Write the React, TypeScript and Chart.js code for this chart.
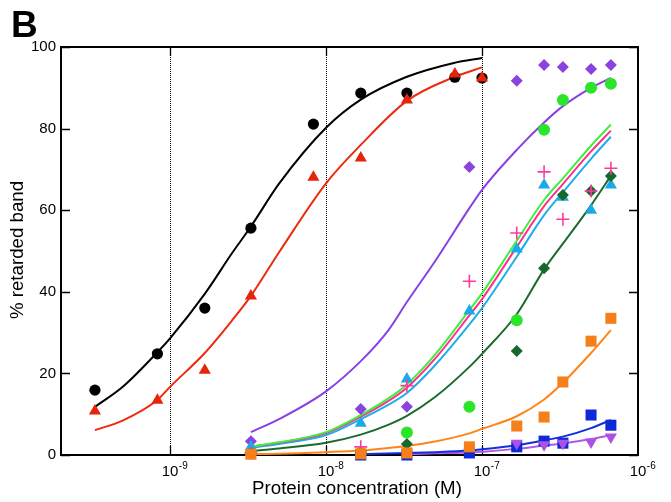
import React, { useEffect, useRef } from "react";
import { Chart, registerables } from "chart.js";

Chart.register(...registerables);

const FONT = "'Liberation Sans', Arial, Helvetica, sans-serif";

// axes
const xMin = 2e-10;
const xMax = 1e-6;
const yTicks = [0, 20, 40, 60, 80, 100];
const xDecades = [1e-9, 1e-8, 1e-7, 1e-6];
const xDecadeExp = ["-9", "-8", "-7", "-6"];
const dottedAt = [1e-9, 1e-8, 1e-7];

// measured points – high-affinity pair
const leftConc = [3.3e-10, 8.3e-10, 1.67e-9, 3.3e-9, 8.3e-9, 1.67e-8, 3.3e-8, 6.7e-8, 1e-7];
const blackPoints = [15.9, 24.8, 36, 55.6, 81.1, 88.7, 88.7, 92.6, 92.4];
const redPoints = [10.8, 13.4, 20.8, 39, 68.1, 72.8, 87, 93.4, 92.4];

// measured points – other proteins
const rightConc = [3.3e-9, 1.67e-8, 3.3e-8, 8.3e-8, 1.67e-7, 2.5e-7, 3.3e-7, 5e-7, 6.7e-7];
const violetPoints = [3.4, 11.3, 11.8, 70.6, 91.7, 95.6, 95.1, 94.6, 95.6];
const greenPoints = [0.5, 0.5, 5.5, 11.8, 33, 79.7, 87, 90, 91];
const cyanPoints = [2, 7.8, 18.6, 35.3, 50.5, 66.2, 63.2, 60, 66.2];
const pinkPoints = [0.5, 2, 17, 42.6, 54.4, 69.4, 57.8, 64.7, 70.3];
const darkGreenPoints = [0.5, 0.5, 2.7, 1, 25.5, 45.8, 63.7, 64.7, 68.4];
const orangePoints = [0.2, 0.3, 0.5, 2, 7.1, 9.3, 17.9, 27.9, 33.5];
const bluePoints = [null, 0, 0, 0.5, 2, 3.4, 2.9, 9.8, 7.3];
const lilacPoints = [null, null, null, null, 2.9, 2.5, 2.9, 3.2, 4.4];

// fitted curves
const leftFitX = [3.3e-10, 5e-10, 8.3e-10, 1e-9, 1.67e-9, 2.5e-9, 3.3e-9, 5e-9, 1e-8, 1.67e-8, 3.3e-8, 6.6e-8, 1e-7];
const blackFit = [11.8, 16.8, 25.2, 28.6, 39.5, 49.5, 56, 66.5, 80.2, 87.1, 92.7, 96.1, 97.3];
const redFit = [6.1, 8.5, 13.5, 16.7, 25, 33, 39, 49.7, 66.6, 76, 86.8, 92.6, 95];

const rightFitX = [3.3e-9, 5e-9, 1e-8, 1.67e-8, 2.5e-8, 3.3e-8, 5e-8, 8.3e-8, 1e-7, 1.67e-7, 2.5e-7, 3.3e-7, 5e-7, 6.7e-7];
const violetFit = [5.6, 8.8, 15.6, 23, 30.5, 37.5, 47.5, 60.5, 65, 74.8, 81.5, 85.5, 90, 92.4];
const greenFit = [2.1, 3.1, 5.6, 9.8, 13.8, 17.3, 24.6, 35.5, 39.6, 52.5, 62.5, 67.8, 75.8, 81];
const pinkFit = [2.0, 3.0, 5.4, 9.4, 13.2, 16.5, 23.6, 34.2, 38.2, 51, 61, 66.4, 74.4, 79.5];
const cyanFit = [1.8, 2.7, 4.9, 8.8, 12.3, 15.2, 22, 32, 36, 48.6, 58.8, 64.4, 72.6, 78];
const darkGreenFit = [1.0, 1.6, 3.0, 5.0, 7.4, 9.6, 14.2, 21.6, 24.8, 34.5, 45.5, 51.8, 61.2, 68.4];
const orangeFit = [0.2, 0.3, 0.7, 1.1, 1.7, 2.2, 3.3, 5.3, 6.4, 9.5, 13.6, 17.7, 25, 30.6];

const blueFitX = [1.67e-8, 3.3e-8, 5e-8, 8.3e-8, 1e-7, 1.67e-7, 2.5e-7, 3.3e-7, 5e-7, 6.7e-7];
const blueFit = [0.2, 0.5, 0.7, 1.1, 1.4, 2.4, 3.6, 4.5, 6.6, 8.6];
const lilacFitX = [3.3e-8, 5e-8, 8.3e-8, 1e-7, 1.67e-7, 2.5e-7, 3.3e-7, 5e-7, 6.7e-7];
const lilacFit = [0.2, 0.4, 0.6, 0.8, 1.5, 2.3, 2.8, 3.9, 4.9];

const zip = (xs: number[], ys: (number | null)[]) =>
  xs
    .map((x, i) => ({ x, y: ys[i] }))
    .filter((p) => p.y !== null && p.y !== undefined);

const curve = (xs: number[], ys: number[], color: string) => ({
  data: zip(xs, ys),
  showLine: true,
  borderColor: color,
  borderWidth: 2,
  pointRadius: 0,
  cubicInterpolationMode: "monotone",
  order: 50,
});

const marks = (
  xs: number[],
  ys: (number | null)[],
  style: string,
  color: string,
  radius: number,
  order: number,
  extra: any = {}
) => ({
  data: zip(xs, ys),
  showLine: false,
  pointStyle: style,
  pointRadius: radius,
  backgroundColor: color,
  borderColor: color,
  pointBorderWidth: 0,
  clip: false,
  order,
  ...extra,
});

const decorPlugin = {
  id: "decor",
  beforeDatasetsDraw(chart: any) {
    const { ctx, chartArea: a, scales } = chart;
    const xs = scales.x;
    const ys = scales.y;
    ctx.save();
    // dotted decade lines
    ctx.strokeStyle = "#000";
    ctx.lineWidth = 1;
    ctx.setLineDash([1, 1]);
    for (const v of dottedAt) {
      const px = Math.round(xs.getPixelForValue(v)) + 0.5;
      ctx.beginPath();
      ctx.moveTo(px, a.top);
      ctx.lineTo(px, a.bottom);
      ctx.stroke();
    }
    ctx.setLineDash([]);
    // tick marks
    ctx.lineWidth = 1.3;
    for (const v of dottedAt) {
      const px = Math.round(xs.getPixelForValue(v)) + 0.5;
      ctx.beginPath();
      ctx.moveTo(px, a.top);
      ctx.lineTo(px, a.top + 9);
      ctx.moveTo(px, a.bottom);
      ctx.lineTo(px, a.bottom - 9);
      ctx.stroke();
    }
    for (const v of yTicks) {
      const py = Math.round(ys.getPixelForValue(v)) + 0.5;
      ctx.beginPath();
      ctx.moveTo(a.left, py);
      ctx.lineTo(a.left + 9, py);
      ctx.moveTo(a.right, py);
      ctx.lineTo(a.right - 9, py);
      ctx.stroke();
    }
    // frame
    ctx.lineWidth = 2;
    ctx.strokeRect(a.left, a.top, a.right - a.left, a.bottom - a.top);
    ctx.restore();
  },
  afterDraw(chart: any) {
    const { ctx, chartArea: a, scales } = chart;
    const xs = scales.x;
    ctx.save();
    ctx.fillStyle = "#000";
    // x tick labels with superscript exponents
    xDecades.forEach((v, i) => {
      const px = xs.getPixelForValue(v);
      ctx.font = `15px ${FONT}`;
      ctx.textAlign = "center";
      ctx.textBaseline = "alphabetic";
      ctx.fillText("10", px, 476);
      const w = ctx.measureText("10").width;
      ctx.font = `10px ${FONT}`;
      ctx.textAlign = "left";
      ctx.fillText(xDecadeExp[i], px + w / 2 + 0.5, 469);
    });
    // axis titles
    ctx.font = `18.7px ${FONT}`;
    ctx.textAlign = "center";
    ctx.textBaseline = "alphabetic";
    ctx.fillText("Protein concentration (M)", 357, 494);
    ctx.save();
    ctx.translate(18, 250);
    ctx.rotate(-Math.PI / 2);
    ctx.textBaseline = "middle";
    ctx.fillText("% retarded band", 0, 0);
    ctx.restore();
    // panel letter
    ctx.font = `bold 37px ${FONT}`;
    ctx.textAlign = "left";
    ctx.fillText("B", 11, 37);
    ctx.restore();
  },
};

export default function App() {
  const ref = useRef<HTMLCanvasElement | null>(null);

  useEffect(() => {
    if (!ref.current) return;
    const chart = new Chart(ref.current, {
      type: "scatter",
      data: {
        datasets: [
          curve(leftFitX, blackFit, "#000000"),
          curve(leftFitX, redFit, "#EE2A0E"),
          curve(rightFitX, violetFit, "#8A3FE6"),
          curve(rightFitX, greenFit, "#3CF03C"),
          curve(rightFitX, pinkFit, "#FF2E8F"),
          curve(rightFitX, cyanFit, "#1EAEEA"),
          curve(rightFitX, darkGreenFit, "#1B6B2E"),
          curve(rightFitX, orangeFit, "#FF8418"),
          curve(blueFitX, blueFit, "#1030E0"),
          curve(lilacFitX, lilacFit, "#B457E8"),
          marks(rightConc, violetPoints, "rectRot", "#8A43DD", 6, 12),
          marks(rightConc, greenPoints, "circle", "#2BE52B", 6, 11),
          marks(rightConc, cyanPoints, "triangle", "#1AABE6", 7, 10),
          marks(rightConc, darkGreenPoints, "rectRot", "#17692B", 6, 9),
          marks(rightConc, pinkPoints, "cross", "#FF3A9A", 6.5, 8, { pointBorderWidth: 1.6 }),
          marks(rightConc, bluePoints, "rect", "#0B2BD8", 7.8, 7),
          marks(rightConc, lilacPoints, "triangle", "#B14FE3", 7, 6, { pointRotation: 180 }),
          marks(rightConc, orangePoints, "rect", "#F47F1B", 7.8, 5),
          marks(leftConc, blackPoints, "circle", "#000000", 5.6, 4),
          marks(leftConc, redPoints, "triangle", "#E8230C", 7, 3),
        ] as any,
      },
      options: {
        responsive: false,
        animation: false,
        events: [],
        layout: { padding: { left: 0, top: 47, right: 33, bottom: 0 } },
        plugins: { legend: { display: false }, tooltip: { enabled: false } },
        scales: {
          x: {
            type: "logarithmic",
            min: xMin,
            max: xMax,
            grid: { display: false, drawTicks: false },
            border: { display: false },
            ticks: { display: false },
            afterBuildTicks: (s: any) => {
              s.ticks = xDecades.map((v) => ({ value: v }));
            },
            afterFit: (s: any) => {
              s.height = 47;
            },
          },
          y: {
            min: 0,
            max: 100,
            grid: { display: false, drawTicks: false },
            border: { display: false },
            afterBuildTicks: (s: any) => {
              s.ticks = yTicks.map((v) => ({ value: v }));
            },
            ticks: {
              padding: 5,
              color: "#000",
              font: { size: 15, family: FONT },
            },
            afterFit: (s: any) => {
              s.width = 61;
            },
          },
        },
      },
      plugins: [decorPlugin],
    });
    return () => chart.destroy();
  }, []);

  return (
    <div style={{ position: "absolute", left: 0, top: 0, width: 671, height: 502, background: "#fff" }}>
      <canvas ref={ref} width={671} height={502} style={{ width: 671, height: 502 }} />
    </div>
  );
}
